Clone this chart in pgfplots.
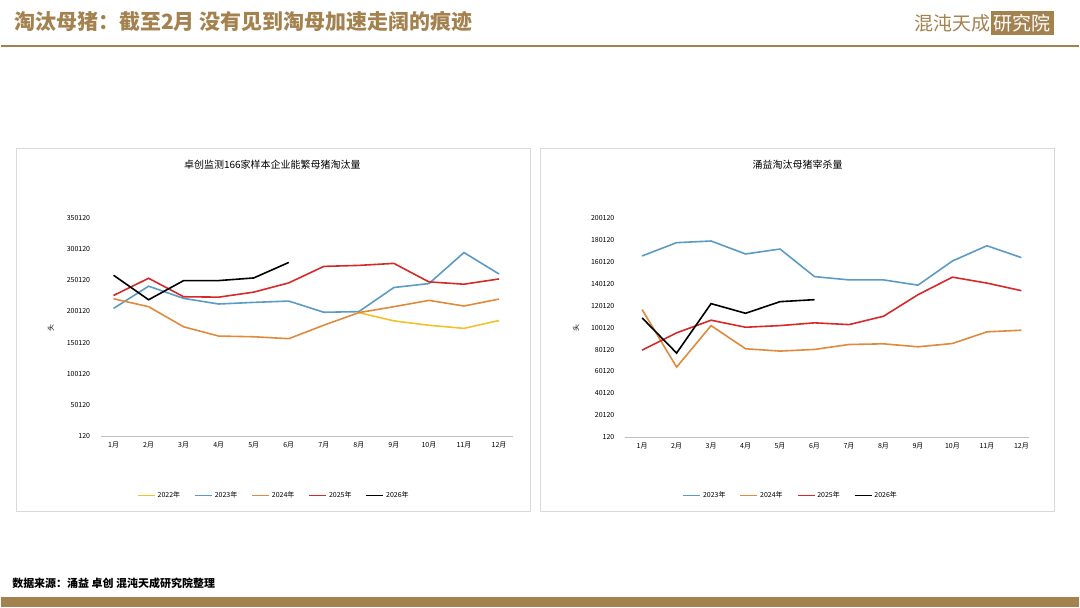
\documentclass[border=0pt]{standalone}
\usepackage{pgfplots}
\pgfplotsset{compat=1.18}
\usepackage{fontspec}
\setmainfont{Noto Sans CJK SC}
\definecolor{brn}{HTML}{A4824F}
\definecolor{ylw}{HTML}{F2C12E}
\definecolor{blu}{HTML}{5B9BC4}
\definecolor{org}{HTML}{E08A3C}
\definecolor{rd}{HTML}{D42A2A}
\begin{document}
\begin{tikzpicture}
\begin{scope}[x=1pt,y=1pt]
\path[fill=white] (0,0) rectangle (1080,-608);
\node[anchor=west,text=brn,font=\fontsize{21}{24}\selectfont\bfseries] at (10,-21) {淘汰母猪：截至2月 没有见到淘母加速走阔的痕迹};
\node[anchor=east,text=brn,font=\fontsize{19}{22}\selectfont] at (1058,-23) {混沌天成\colorbox{brn}{\textcolor{white}{研究院}}};
\draw[brn,line width=1.5] (0,-46) -- (1080,-46);
\fill[brn] (0,-598) rectangle (1080,-608);
\node[anchor=west,font=\fontsize{11}{13}\selectfont\bfseries] at (8,-584) {数据来源：涌益 卓创 混沌天成研究院整理};
\draw[gray!30] (15,-148) rectangle (530,-512);
\draw[gray!30] (540,-148) rectangle (1055,-512);
\node[font=\fontsize{10}{12}\selectfont] at (272,-165) {卓创监测166家样本企业能繁母猪淘汰量};
\node[font=\fontsize{10}{12}\selectfont] at (798,-165) {涌益淘汰母猪宰杀量};
\foreach \v [count=\i from 0] in {120,50120,100120,150120,200120,250120,300120,350120}
  \node[anchor=east,font=\fontsize{7}{9}\selectfont] at (93,-437+\i*31.29) {\v};
\foreach \v [count=\i from 0] in {120,20120,40120,60120,80120,100120,120120,140120,160120,180120,200120}
  \node[anchor=east,font=\fontsize{7}{9}\selectfont] at (618,-438+\i*22.0) {\v};
\node[rotate=90,font=\fontsize{7}{8}\selectfont] at (50,-328) {头};
\node[rotate=90,font=\fontsize{7}{8}\selectfont] at (576,-328) {头};
\end{scope}
\pgfplotsset{every axis/.style={scale only axis, axis x line*=bottom, axis y line=none,
 x axis line style={gray!50}, xtick style={draw=none}, xtick={1,...,12},
 xticklabels={1月,2月,3月,4月,5月,6月,7月,8月,9月,10月,11月,12月},
 ticklabel style={font=\fontsize{7}{9}\selectfont}, xticklabel style={yshift=-2pt}, clip=false,
 legend columns=-1,
 legend style={draw=none,fill=none,font=\fontsize{7}{9}\selectfont,anchor=center,
   /tikz/every even column/.append style={column sep=12pt}},
 every axis plot/.append style={line width=1.6pt, no markers}}}
\begin{axis}[at={(100pt,-437pt)},anchor=south west,width=413pt,height=219pt,
 xmin=0.63,xmax=12.4,ymin=120,ymax=350120, legend style={at={(0.42,-0.27)}}]
\addplot[color=ylw] coordinates {(8,198200)(9,185000)(10,178000)(11,173000)(12,185600)};
\addplot[color=blu] coordinates {(1,205000)(2,240500)(3,221000)(4,212000)(5,214600)(6,216700)(7,198800)(8,199800)(9,238400)(10,244700)(11,294400)(12,260000)};
\addplot[color=org] coordinates {(1,220400)(2,207700)(3,175500)(4,160700)(5,159600)(6,156500)(7,178100)(8,198200)(9,207700)(10,217800)(11,208800)(12,219900)};
\addplot[color=rd] coordinates {(1,225700)(2,253200)(3,223600)(4,223000)(5,231000)(6,245800)(7,272200)(8,273800)(9,277000)(10,247400)(11,243700)(12,252100)};
\addplot[color=black] coordinates {(1,258000)(2,218800)(3,249500)(4,249500)(5,253700)(6,278500)};
\legend{2022年,2023年,2024年,2025年,2026年}
\end{axis}
\begin{axis}[at={(625pt,-438pt)},anchor=south west,width=405pt,height=220pt,
 xmin=0.5,xmax=12.23,ymin=120,ymax=200120, legend style={at={(0.41,-0.265)}}]
\addplot[color=blu] coordinates {(1,165300)(2,177400)(3,178900)(4,167100)(5,171600)(6,146500)(7,143500)(8,143500)(9,138700)(10,160700)(11,174600)(12,163800)};
\addplot[color=org] coordinates {(1,116400)(2,64100)(3,101900)(4,80800)(5,78700)(6,80200)(7,84700)(8,85300)(9,82600)(10,85600)(11,96200)(12,97700)};
\addplot[color=rd] coordinates {(1,79600)(2,95300)(3,106800)(4,100400)(5,101900)(6,104400)(7,102800)(8,110400)(9,130000)(10,146000)(11,140600)(12,133700)};
\addplot[color=black] coordinates {(1,108900)(2,76900)(3,121900)(4,113100)(5,123700)(6,125500)};
\legend{2023年,2024年,2025年,2026年}
\end{axis}
\end{tikzpicture}
\end{document}
